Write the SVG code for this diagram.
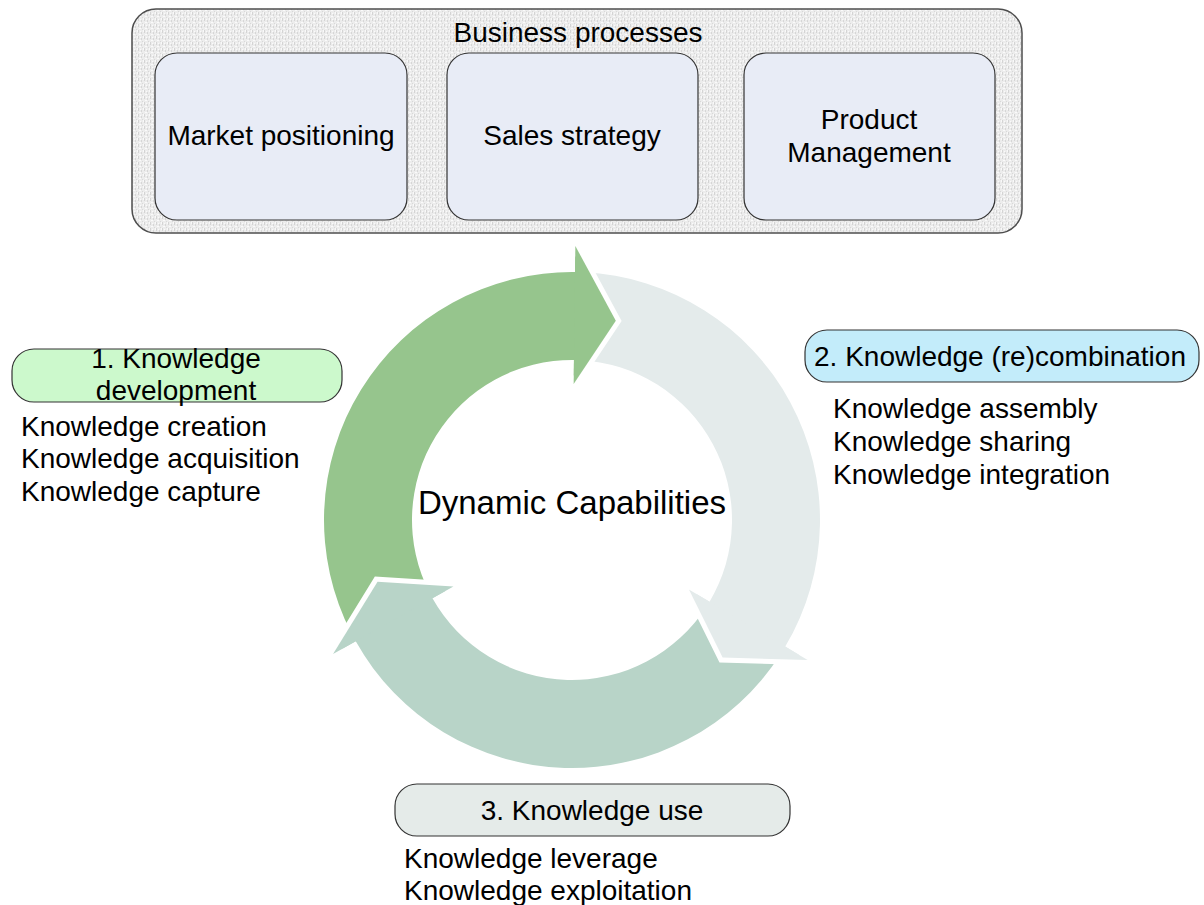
<svg xmlns="http://www.w3.org/2000/svg" width="1204" height="905" viewBox="0 0 1204 905">
<defs>
<pattern id="tex" width="6" height="6" patternUnits="userSpaceOnUse">
<rect width="6" height="6" fill="#ECECEC"/>
<rect x="0" y="0" width="1" height="3" fill="#D4D4D4"/>
<rect x="3" y="2" width="1" height="2" fill="#D6D6D6"/>
<rect x="1" y="4" width="2" height="1" fill="#FAFAFA"/>
<rect x="4" y="5" width="1" height="1" fill="#D8D8D8"/>
<rect x="5" y="0" width="1" height="2" fill="#F9F9F9"/>
<rect x="2" y="1" width="1" height="1" fill="#FAFAFA"/>
</pattern>
<style>
text{font-family:"Liberation Sans",Arial,sans-serif;font-size:28px;fill:#000}
.c{text-anchor:middle}
.box{fill:#E8ECF6;stroke:#333;stroke-width:1.2}
.lbl{stroke:#333;stroke-width:1.2}
.gap{fill:none;stroke:#fff;stroke-width:10;stroke-linejoin:miter;stroke-miterlimit:10}
.g{fill:#96C58D}
.gr{fill:#E4EBEB}
.t{fill:#B8D4C8}
</style>
</defs>
<rect width="1204" height="905" fill="#fff"/>

<g id="business-processes">
<rect x="132" y="9" width="890" height="224" rx="24" fill="url(#tex)" stroke="#4D4D4D" stroke-width="1.5"/>
<text class="c" x="578" y="42">Business processes</text>
</g>
<g id="market-positioning">
<rect class="box" x="155" y="53" width="252" height="167" rx="22"/>
<text class="c" x="281" y="145">Market positioning</text>
</g>
<g id="sales-strategy">
<rect class="box" x="447" y="53" width="251" height="167" rx="22"/>
<text class="c" x="572" y="145">Sales strategy</text>
</g>
<g id="product-management">
<rect class="box" x="744" y="53" width="251" height="167" rx="22"/>
<text class="c" x="869" y="129">Product</text>
<text class="c" x="869" y="162">Management</text>
</g>

<g id="connectors">
<path id="arrow-green" class="g" d="M351.62,633.75 A248,248 0 0 1 575.03,272.02 L575.35,246.02 L615.81,320.76 L573.66,384.01 L573.95,360.01 A160,160 0 0 0 429.82,593.38 Z"/>
<path id="arrow-grey" class="gr" d="M583.68,272.28 A248,248 0 0 1 785.24,646.61 L807.60,659.89 L722.65,657.56 L688.94,589.43 L709.58,601.69 A160,160 0 0 0 579.54,360.18 Z"/>
<path id="arrow-teal" class="t" d="M780.69,653.98 A248,248 0 0 1 355.73,641.37 L333.05,654.09 L377.55,581.68 L453.40,586.56 L432.47,598.30 A160,160 0 0 0 706.64,606.44 Z"/>
<polyline class="gap" points="807.60,659.89 722.65,657.56 688.94,589.43"/>
<polygon class="gr" points="807.60,659.89 722.65,657.56 688.94,589.43"/>
<polyline class="gap" points="333.05,654.09 377.55,581.68 453.40,586.56"/>
<polygon class="t" points="333.05,654.09 377.55,581.68 453.40,586.56"/>
<polyline class="gap" points="575.35,246.02 615.81,320.76 573.66,384.01"/>
<polygon class="g" points="575.35,246.02 615.81,320.76 573.66,384.01"/>
</g>

<g id="dynamic-capabilities">
<text class="c" x="572" y="514" style="font-size:33px">Dynamic Capabilities</text>
</g>

<g id="knowledge-development">
<rect class="lbl" x="12" y="349" width="330" height="53" rx="22" fill="#CCF9CC"/>
<text class="c" x="176" y="368">1. Knowledge</text>
<text class="c" x="176" y="400">development</text>
<text x="21" y="436">Knowledge creation</text>
<text x="21" y="468">Knowledge acquisition</text>
<text x="21" y="501">Knowledge capture</text>
</g>

<g id="knowledge-recombination">
<rect class="lbl" x="805" y="330" width="394" height="52" rx="22" fill="#C3ECFA"/>
<text class="c" x="1000" y="366">2. Knowledge (re)combination</text>
<text x="833" y="418">Knowledge assembly</text>
<text x="833" y="451">Knowledge sharing</text>
<text x="833" y="484">Knowledge integration</text>
</g>

<g id="knowledge-use">
<rect class="lbl" x="395" y="784" width="395" height="52" rx="22" fill="#E5EBE9"/>
<text class="c" x="592" y="820">3. Knowledge use</text>
<text x="404" y="868">Knowledge leverage</text>
<text x="404" y="900">Knowledge exploitation</text>
</g>
</svg>
